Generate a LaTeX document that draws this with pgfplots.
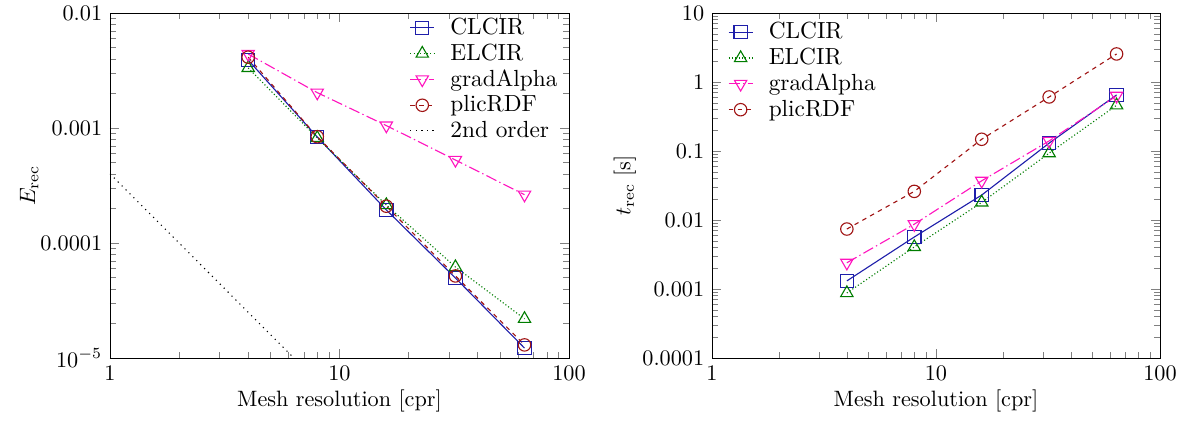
\documentclass[border=0pt]{standalone}
\usepackage{pgfplots}
\pgfplotsset{compat=1.18}
\definecolor{cblue}{RGB}{30,30,170}
\definecolor{cgreen}{RGB}{0,125,0}
\definecolor{cmag}{RGB}{255,20,190}
\definecolor{cred}{RGB}{160,20,20}
\newcommand{\px}{0.45pt}
\pgfplotsset{
  every axis/.style={
    xmode=log, ymode=log, scale only axis,
    width=459*\px, height=345*\px,
    xmin=1, xmax=100,
    xtick={1,10,100}, xticklabels={1,10,100},
    xlabel={Mesh resolution [cpr]},
    xlabel style={yshift=3pt},
    legend cell align=left,
    legend style={draw=none, fill=none, font=\fontsize{10.5}{12}\selectfont, row sep=-1.3pt,
      /tikz/every odd column/.append style={column sep=5pt}},
    legend image code/.code={\draw[mark repeat=2,mark phase=2] plot coordinates {(0cm,0cm) (0.19cm,0cm) (0.38cm,0cm)};},
    every axis plot/.append style={line width=0.5pt},
  },
  clcir/.style={cblue, solid, mark=square, mark size=3pt, mark options={solid}},
  elcir/.style={cgreen, densely dotted, mark=triangle, mark size=3.2pt, mark options={solid}},
  grad/.style={cmag, dash pattern=on 5pt off 1.5pt on 0.6pt off 1.5pt, mark=triangle, mark size=3.2pt, mark options={solid, rotate=180}},
  plic/.style={cred, dash pattern=on 2pt off 2pt, mark=o, mark size=2.8pt, mark options={solid}},
}
\begin{document}
\begin{tikzpicture}
\useasboundingbox (-110*\px,-65*\px) rectangle (1080*\px,358*\px);
\begin{axis}[
  ymin=1e-5, ymax=1e-2,
  ytick={1e-5,1e-4,1e-3,1e-2},
  yticklabels={$10^{-5}$,0.0001,0.001,0.01},
  ylabel={$E_{\mathrm{rec}}$},
  ylabel style={yshift=-6pt},
  legend style={at={(1,1)}, anchor=north east, yshift=2pt},
]
\addplot[clcir] coordinates {(4,3.9e-3) (8,8.35e-4) (16,1.94e-4) (32,4.96e-5) (64,1.22e-5)};
\addlegendentry{CLCIR}
\addplot[elcir] coordinates {(4,3.33e-3) (8,8.2e-4) (16,2.14e-4) (32,6.18e-5) (64,2.19e-5)};
\addlegendentry{ELCIR}
\addplot[grad] coordinates {(4,4.4e-3) (8,2.03e-3) (16,1.05e-3) (32,5.27e-4) (64,2.63e-4)};
\addlegendentry{gradAlpha}
\addplot[plic] coordinates {(4,4.13e-3) (8,8.4e-4) (16,2.09e-4) (32,5.17e-5) (64,1.30e-5)};
\addlegendentry{plicRDF}
\addplot[black, dotted, no marks] coordinates {(1,4e-4) (6.3246,1e-5)};
\addlegendentry{2nd order}
\end{axis}
\begin{axis}[
  at={(602*\px,0)},
  width=448*\px,
  ymin=1e-4, ymax=10,
  ytick={1e-4,1e-3,1e-2,1e-1,1,10},
  yticklabels={0.0001,0.001,0.01,0.1,1,10},
  ylabel={$t_{\mathrm{rec}}$ [s]},
  ylabel style={yshift=-4pt},
  legend style={at={(0.02,1)}, anchor=north west},
]
\addplot[clcir] coordinates {(4,1.31e-3) (8,5.67e-3) (16,0.023) (32,0.13) (64,0.65)};
\addlegendentry{CLCIR}
\addplot[elcir] coordinates {(4,8.75e-4) (8,4.07e-3) (16,0.018) (32,0.093) (64,0.46)};
\addlegendentry{ELCIR}
\addplot[grad] coordinates {(4,2.4e-3) (8,8.7e-3) (16,0.037) (32,0.14) (64,0.63)};
\addlegendentry{gradAlpha}
\addplot[plic] coordinates {(4,7.4e-3) (8,0.026) (16,0.148) (32,0.607) (64,2.55)};
\addlegendentry{plicRDF}
\end{axis}
\end{tikzpicture}
\end{document}
